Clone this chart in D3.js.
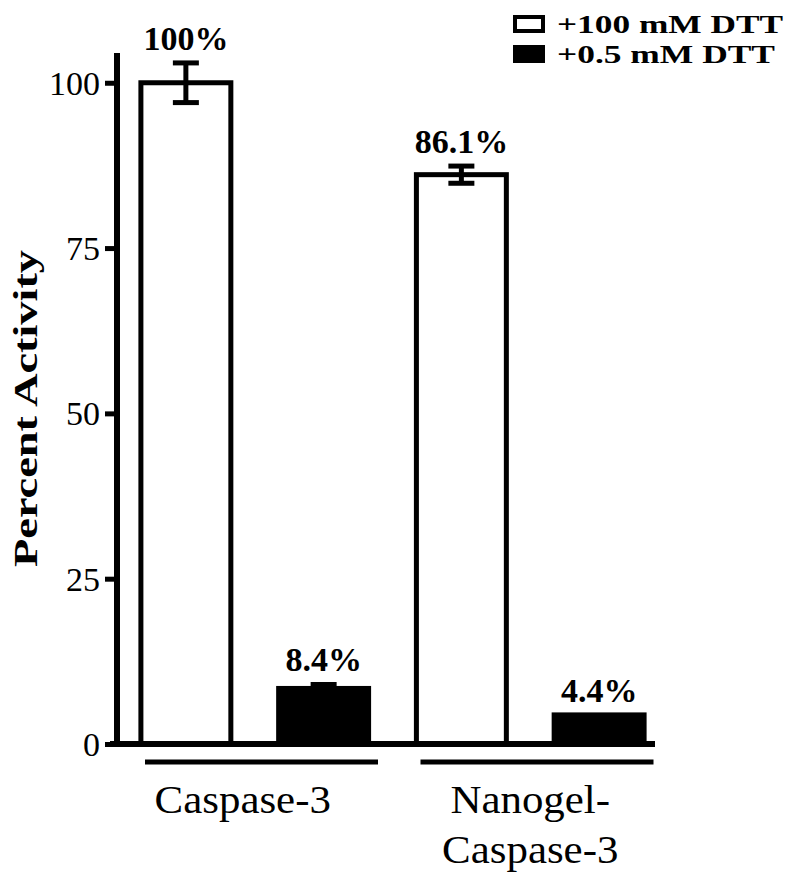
<!DOCTYPE html>
<html>
<head>
<meta charset="utf-8">
<script src="https://cdn.jsdelivr.net/npm/d3@7"></script>
<style>
  html, body { margin: 0; padding: 0; background: #fff; }
  svg { display: block; }
  text { font-family: "Liberation Serif", "DejaVu Serif", serif; fill: #000; }
</style>
</head>
<body>
<script>
// ---- data ----
const groups = ["Caspase-3", "Nanogel-Caspase-3"];
const groupLabelLines = [["Caspase-3"], ["Nanogel-", "Caspase-3"]];
const series = ["+100 mM DTT", "+0.5 mM DTT"];
const values100mM = [100, 86.1];
const values05mM = [8.4, 4.4];
const errors100mM = [3.0, 1.3];
const errors05mM = [0.6, 0];
const labels100mM = ["100%", "86.1%"];
const labels05mM = ["8.4%", "4.4%"];
const yTicks = [0, 25, 50, 75, 100];
const yTitle = "Percent Activity";

const W = 800, H = 882;
const svg = d3.select("body").append("svg").attr("width", W).attr("height", H);

const plotLeft = 117, plotBottom = 744, plotTop = 53;
const y = d3.scaleLinear().domain([0, 104.5]).range([plotBottom, plotTop]);
const x0 = d3.scaleBand().domain(groups).range([plotLeft, 668]).paddingInner(0).paddingOuter(0);
const x1 = d3.scaleBand().domain(series).range([0, x0.bandwidth()]).paddingInner(0.347).paddingOuter(0.347 / 2);

const rows = [];
groups.forEach((g, i) => {
  rows.push({ g, s: series[0], v: values100mM[i], e: errors100mM[i], lab: labels100mM[i] });
  rows.push({ g, s: series[1], v: values05mM[i], e: errors05mM[i], lab: labels05mM[i] });
});
const fillOf = s => s === series[0] ? "#fff" : "#000";
const cx = d => x0(d.g) + x1(d.s) + x1.bandwidth() / 2;

// bars
svg.append("g").selectAll("rect").data(rows).join("rect")
  .attr("x", d => x0(d.g) + x1(d.s))
  .attr("width", x1.bandwidth())
  .attr("y", d => y(d.v))
  .attr("height", d => y(0) - y(d.v))
  .attr("fill", d => fillOf(d.s))
  .attr("stroke", "#000")
  .attr("stroke-width", 5);

// error bars
const eb = svg.append("g").selectAll("g").data(rows.filter(d => d.e > 0)).join("g");
eb.append("line")
  .attr("x1", cx).attr("x2", cx)
  .attr("y1", d => y(d.v + d.e)).attr("y2", d => y(d.v - d.e))
  .attr("stroke", "#000").attr("stroke-width", 5);
eb.append("line")
  .attr("x1", d => cx(d) - 13).attr("x2", d => cx(d) + 13)
  .attr("y1", d => y(d.v + d.e)).attr("y2", d => y(d.v + d.e))
  .attr("stroke", "#000").attr("stroke-width", 5);
eb.append("line")
  .attr("x1", d => cx(d) - 13).attr("x2", d => cx(d) + 13)
  .attr("y1", d => y(d.v - d.e)).attr("y2", d => y(d.v - d.e))
  .attr("stroke", "#000").attr("stroke-width", 5);

// value labels
svg.append("g").selectAll("text").data(rows).join("text")
  .attr("x", cx)
  .attr("y", d => y(d.v + d.e) - 13)
  .attr("text-anchor", "middle")
  .attr("font-weight", "bold")
  .attr("font-size", 34)
  .text(d => d.lab);

// y axis
const yAxis = svg.append("g").attr("transform", `translate(${plotLeft},0)`)
  .call(d3.axisLeft(y).tickValues(yTicks).tickSize(12).tickSizeOuter(0).tickPadding(5));
yAxis.select(".domain").attr("stroke", "#000").attr("stroke-width", 6)
  .attr("d", `M0,${y(0) + 3}V${plotTop}`);
yAxis.selectAll(".tick line").attr("stroke", "#000").attr("stroke-width", 5);
yAxis.selectAll(".tick text")
  .attr("font-family", "Liberation Serif, serif")
  .attr("font-size", 34)
  .attr("fill", "#000")
  .attr("dy", "0.34em");

// x axis baseline
svg.append("line")
  .attr("x1", plotLeft - 7).attr("x2", x0(groups[1]) + 262.5)
  .attr("y1", y(0)).attr("y2", y(0))
  .attr("stroke", "#000").attr("stroke-width", 6);

// group underlines
svg.append("g").selectAll("line").data(groups).join("line")
  .attr("x1", g => x0(g) + 28).attr("x2", g => x0(g) + 261)
  .attr("y1", y(0) + 18).attr("y2", y(0) + 18)
  .attr("stroke", "#000").attr("stroke-width", 5);

// group labels
const gl = svg.append("g").selectAll("text").data(groups).join("text")
  .attr("text-anchor", "middle")
  .attr("font-size", 39)
  .attr("transform", (g, i) => `translate(${x0(g) + x0.bandwidth() / 2 - (i === 0 ? 12 : 0)},${y(0) + 69}) scale(1.1,1)`);
gl.each(function (g, i) {
  d3.select(this).selectAll("tspan").data(groupLabelLines[i]).join("tspan")
    .attr("x", 0).attr("dy", (d, j) => j === 0 ? 0 : 50).text(d => d);
});

// y title
svg.append("text")
  .attr("transform", `translate(37,${(250 + 567) / 2}) rotate(-90)`)
  .attr("text-anchor", "middle")
  .attr("font-weight", "bold")
  .attr("font-size", 34)
  .attr("textLength", 317)
  .attr("lengthAdjust", "spacingAndGlyphs")
  .text(yTitle);

// legend
const legend = svg.append("g").attr("transform", "translate(513,15)");
const legendLen = [226, 218];
series.forEach((s, i) => {
  const row = legend.append("g").attr("transform", `translate(0,${i * 30})`);
  row.append("rect").attr("x", 2).attr("y", 2).attr("width", 28).attr("height", 14)
    .attr("fill", fillOf(s)).attr("stroke", "#000").attr("stroke-width", 4);
  row.append("text").attr("x", 44).attr("y", 18)
    .attr("font-weight", "bold").attr("font-size", 26)
    .attr("textLength", legendLen[i]).attr("lengthAdjust", "spacingAndGlyphs")
    .text(s);
});
</script>
</body>
</html>
